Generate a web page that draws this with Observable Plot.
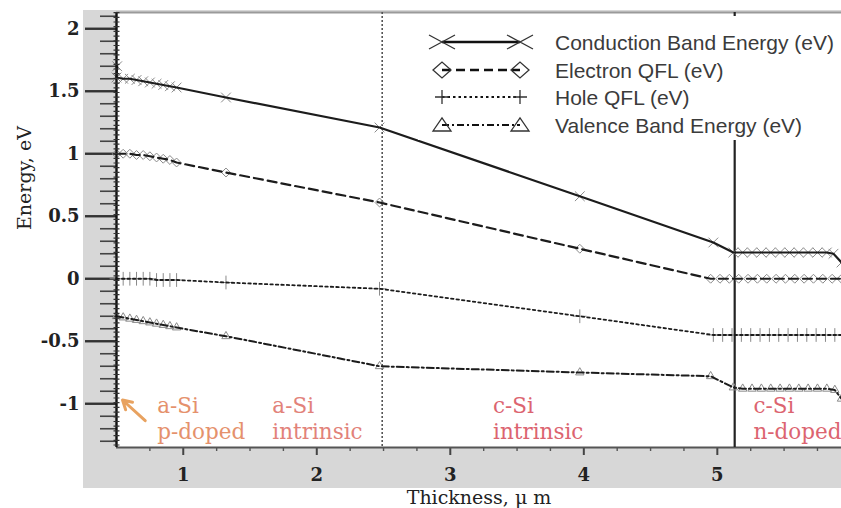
<!DOCTYPE html>
<html>
<head>
<meta charset="utf-8">
<script src="https://cdn.jsdelivr.net/npm/d3@7"></script>
<script src="https://cdn.jsdelivr.net/npm/@observablehq/plot@0.6"></script>
<style>
  html, body { margin: 0; padding: 0; background: #ffffff; }
  #wrap { position: relative; width: 841px; height: 508px; overflow: hidden; background: #ffffff; }
  #band { position: absolute; left: 83px; top: 10px; width: 758px; height: 478px; background: #d7d7d7; }
  #chart { position: absolute; left: 0; top: 0; }
  #legend { position: absolute; left: 418px; top: 16px; width: 423px; height: 124px; background: #ffffff; }
</style>
</head>
<body>
<div id="wrap">
  <div id="band"></div>
  <div id="chart"></div>
  <div id="legend"></div>
</div>
<script>
// ---- data (thickness in µm, energy in eV) ----
const seriesNames = [
  "Conduction Band Energy (eV)",
  "Electron QFL (eV)",
  "Hole QFL (eV)",
  "Valence Band Energy (eV)"
];

const condT = [0.505, 0.5, 0.55, 0.6, 0.65, 0.7, 0.75, 0.8, 0.85, 0.9, 0.95, 1.32, 2.47, 3.97, 4.97, 5.12,
               5.19, 5.26, 5.33, 5.40, 5.47, 5.54, 5.61, 5.68, 5.75, 5.82, 5.87, 5.93];
const condE = [1.70, 1.61, 1.60, 1.60, 1.59, 1.58, 1.57, 1.56, 1.55, 1.54, 1.53, 1.45, 1.21, 0.66, 0.29, 0.21,
               0.21, 0.21, 0.21, 0.21, 0.21, 0.21, 0.21, 0.21, 0.21, 0.21, 0.20, 0.13];

const elecT = [0.5, 0.55, 0.6, 0.65, 0.7, 0.75, 0.8, 0.85, 0.9, 0.95, 1.32, 2.47, 3.97, 4.95,
               5.02, 5.09, 5.16, 5.23, 5.30, 5.37, 5.44, 5.51, 5.58, 5.65, 5.72, 5.79, 5.86, 5.93];
const elecE = [1.00, 1.00, 1.00, 0.99, 0.99, 0.98, 0.97, 0.96, 0.95, 0.93, 0.85, 0.61, 0.24, 0.00,
               0.00, 0.00, 0.00, 0.00, 0.00, 0.00, 0.00, 0.00, 0.00, 0.00, 0.00, 0.00, 0.00, 0.00];

const holeT = [0.5, 0.55, 0.6, 0.65, 0.7, 0.75, 0.8, 0.85, 0.9, 0.95, 1.32, 2.47, 3.97, 4.97,
               5.04, 5.11, 5.18, 5.25, 5.32, 5.39, 5.46, 5.53, 5.60, 5.67, 5.74, 5.81, 5.88, 5.93];
const holeE = [0.00, 0.00, 0.00, 0.00, 0.00, 0.00, -0.01, -0.01, -0.01, -0.01, -0.03, -0.08, -0.30, -0.45,
               -0.45, -0.45, -0.45, -0.45, -0.45, -0.45, -0.45, -0.45, -0.45, -0.45, -0.45, -0.45, -0.45, -0.45];

const valT = [0.5, 0.55, 0.6, 0.65, 0.7, 0.75, 0.8, 0.85, 0.9, 0.95, 1.32, 2.47, 3.97, 4.95, 5.12,
              5.19, 5.26, 5.33, 5.40, 5.47, 5.54, 5.61, 5.68, 5.75, 5.82, 5.88, 5.93];
const valE = [-0.30, -0.31, -0.32, -0.33, -0.34, -0.35, -0.36, -0.37, -0.38, -0.39, -0.46, -0.70, -0.75, -0.78, -0.87,
              -0.88, -0.88, -0.88, -0.88, -0.88, -0.88, -0.88, -0.88, -0.88, -0.88, -0.89, -0.96];

// layer boundaries (µm)
const boundaryDotted = [2.49];
const boundarySolid = [5.13];

// axis ticks
const xTicks = [1, 2, 3, 4, 5];
const xMinorTicks = [0.75, 1.25, 1.5, 1.75, 2.25, 2.5, 2.75, 3.25, 3.5, 3.75, 4.25, 4.5, 4.75, 5.25, 5.5, 5.75];
const yTicks = [-1, -0.5, 0, 0.5, 1, 1.5, 2];
const yMinorTicks = [-1.3, -1.2, -1.1, -0.9, -0.8, -0.7, -0.6, -0.4, -0.3, -0.2, -0.1,
                     0.1, 0.2, 0.3, 0.4, 0.6, 0.7, 0.8, 0.9, 1.1, 1.2, 1.3, 1.4, 1.6, 1.7, 1.8, 1.9, 2.1];

// region annotations
const regionLabels = ["a-Si\np-doped", "a-Si\nintrinsic", "c-Si\nintrinsic", "c-Si\nn-doped"];
const regionT = [0.805, 1.667, 3.32, 5.27];
const regionE = [-1.115, -1.115, -1.115, -1.115];
const regionColors = ["#e5916c", "#e2827a", "#dc6470", "#dc6470"];

const arrowFrom = {t: 0.715, e: -1.135};
const arrowTo = {t: 0.545, e: -0.97};

// ---- build tables ----
const rows = (T, E) => T.map((t, i) => ({t, e: E[i]}));
const cond = rows(condT, condE);
const elec = rows(elecT, elecE);
const hole = rows(holeT, holeE);
const val = rows(valT, valE);
const regions = regionLabels.map((s, i) => ({s, t: regionT[i], e: regionE[i], c: regionColors[i]}));

const serif = "DejaVu Serif, Liberation Serif, serif";
const ink = "#1c1c1c";
const markColor = "#8a8a8a";

const plot = Plot.plot({
  width: 841,
  height: 508,
  marginLeft: 116,
  marginRight: 0,
  marginTop: 12,
  marginBottom: 61,
  style: {background: "transparent", fontFamily: serif, color: "#222"},
  x: {domain: [0.5, 5.93]},
  y: {domain: [-1.35, 2.13]},
  marks: [
    Plot.frame({fill: "white", stroke: null}),
    // minor ticks
    Plot.axisY({ticks: yMinorTicks, tickSize: 16, text: null, stroke: "#444", strokeWidth: 1.6, label: null}),
    Plot.axisX({ticks: xMinorTicks, tickSize: 4, text: null, stroke: "#555", strokeWidth: 1.4, label: null}),
    // major ticks
    Plot.axisY({ticks: yTicks, tickSize: 31, tickPadding: 6, tickFormat: d => String(d),
                fontSize: 18, fontWeight: "bold", fontFamily: serif, stroke: "#333", strokeWidth: 2.4, label: null}),
    Plot.axisX({ticks: xTicks, tickSize: 8, tickPadding: 13, tickFormat: d => String(d),
                fontSize: 18, fontWeight: "bold", fontFamily: serif, stroke: "#444", strokeWidth: 2, label: null}),
    // axis titles
    Plot.text(["Energy, eV"], {frameAnchor: "left", rotate: -90, dx: -92, fontSize: 19, fontFamily: serif, fill: "#222"}),
    Plot.text(["Thickness, \u03bc m"], {frameAnchor: "bottom", dy: 56, fontSize: 19, fontFamily: serif, fill: "#222"}),
    // top border and bottom axis line
    Plot.ruleY([2.13], {stroke: "#9a9a9a", strokeWidth: 2}),
    Plot.ruleY([-1.35], {stroke: "#555", strokeWidth: 2}),
    // layer boundaries
    Plot.ruleX(boundaryDotted, {stroke: "#555", strokeWidth: 1.6, strokeDasharray: "2,2"}),
    Plot.ruleX(boundarySolid, {stroke: "#222", strokeWidth: 2.2}),
    // markers
    Plot.dot(cond, {x: "t", y: "e", symbol: "times", r: 4.5, stroke: markColor, strokeWidth: 1}),
    Plot.dot(elec, {x: "t", y: "e", symbol: "diamond2", r: 4, stroke: markColor, strokeWidth: 1}),
    Plot.dot(hole, {x: "t", y: "e", symbol: "plus", r: 4.5, stroke: markColor, strokeWidth: 1}),
    Plot.dot(val, {x: "t", y: "e", symbol: "triangle2", r: 4, stroke: markColor, strokeWidth: 1}),
    // lines
    Plot.line(cond, {x: "t", y: "e", stroke: ink, strokeWidth: 2.2}),
    Plot.line(elec, {x: "t", y: "e", stroke: ink, strokeWidth: 2.2, strokeDasharray: "9,5"}),
    Plot.line(hole, {x: "t", y: "e", stroke: ink, strokeWidth: 1.8, strokeDasharray: "2.5,3"}),
    Plot.line(val, {x: "t", y: "e", stroke: ink, strokeWidth: 2, strokeDasharray: "7,3,2,3"}),
    // left axis line (dense markers)
    Plot.ruleX([0.5], {stroke: "#111", strokeWidth: 2.4}),
    Plot.ruleX([0.5], {stroke: "#333", strokeWidth: 6, strokeDasharray: "1.2,3.5"}),
    // region labels
    Plot.text(regions, {x: "t", y: "e", text: "s", fill: "c", textAnchor: "start", lineAnchor: "middle",
                        lineHeight: 1.2, fontSize: 21.5, fontFamily: serif}),
    Plot.arrow([{x1: arrowFrom.t, y1: arrowFrom.e, x2: arrowTo.t, y2: arrowTo.e}],
               {x1: "x1", y1: "y1", x2: "x2", y2: "y2", stroke: "#e8a260", strokeWidth: 3, headLength: 7})
  ]
});
document.getElementById("chart").appendChild(plot);

// ---- legend ----
const lg = d3.select("#legend").append("svg").attr("width", 423).attr("height", 124);
const styles = [
  {dash: null, w: 2.6, m: "times"},
  {dash: "9,5", w: 2.6, m: "diamond"},
  {dash: "2.5,3", w: 2, m: "plus"},
  {dash: "7,3,2,3", w: 2.2, m: "triangle"}
];
const rowY = [26, 54, 81, 109];
seriesNames.forEach((name, i) => {
  const g = lg.append("g").attr("transform", `translate(0,${rowY[i]})`);
  const s = styles[i];
  g.append("line").attr("x1", 24).attr("x2", 102).attr("y1", 0).attr("y2", 0)
    .attr("stroke", "#111").attr("stroke-width", s.w).attr("stroke-dasharray", s.dash);
  [24, 102].forEach(cx => {
    const m = g.append("g").attr("transform", `translate(${cx},0)`)
      .attr("fill", "none").attr("stroke", "#333").attr("stroke-width", 1.3);
    if (s.m === "times") {
      m.append("path").attr("d", "M-13,-7L13,7M-13,7L13,-7");
    } else if (s.m === "diamond") {
      m.append("path").attr("d", "M-9,0L0,-8L9,0L0,8Z");
    } else if (s.m === "plus") {
      m.append("path").attr("d", "M-7,0L7,0M0,-7L0,7");
    } else {
      m.append("path").attr("d", "M-9,6L0,-7L9,6Z");
    }
  });
  g.append("text").attr("x", 137).attr("y", 0).attr("dy", "0.36em")
    .attr("font-family", "'Liberation Sans', Arial, sans-serif").attr("font-size", 21)
    .attr("fill", "#3b3b3b").text(name);
});
</script>
</body>
</html>
